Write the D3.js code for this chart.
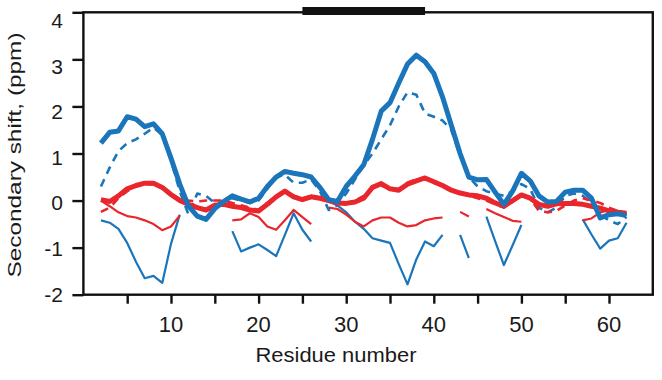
<!DOCTYPE html>
<html>
<head>
<meta charset="utf-8">
<script src="https://cdn.jsdelivr.net/npm/d3@7"></script>
<style>
  body { margin: 0; background: #fff; }
  text { font-family: Arial, "Liberation Sans", sans-serif; fill: #1a1a1a; }
</style>
</head>
<body>
<div id="chart"></div>
<script>
// residue numbers along the x axis
const residues = [2,3,4,5,6,7,8,9,10,11,12,13,14,15,16,17,18,19,20,21,22,23,24,25,26,27,28,29,30,31,
  32,33,34,35,36,37,38,39,40,41,42,43,44,45,46,47,48,49,50,51,52,53,54,55,56,57,58,59,60,61,62];

// blue series (thick solid, dashed, thin solid with gaps)
const blueThick = [1.22,1.45,1.48,1.78,1.73,1.57,1.63,1.42,0.9,0.35,-0.12,-0.33,-0.4,-0.17,-0.02,0.1,0.03,-0.03,0.05,0.3,
  0.5,0.62,0.58,0.55,0.5,0.28,0.02,-0.02,0.3,0.52,0.76,1.3,1.9,2.08,2.5,2.9,3.09,2.95,2.7,2.2,
  1.6,1.0,0.5,0.44,0.45,0.18,-0.08,0.2,0.58,0.42,0.1,-0.03,-0.02,0.18,0.22,0.22,0.05,-0.37,-0.3,-0.28,-0.32];
const blueDash = [0.3,0.7,1.05,1.22,1.3,1.42,1.55,1.4,0.85,0.2,-0.3,0.15,0.1,-0.05,-0.05,0.05,0.0,-0.05,0.0,0.25,
  0.5,0.55,0.38,0.38,0.45,0.2,-0.2,-0.1,0.15,0.45,0.75,1.0,1.3,1.6,2.0,2.3,2.25,1.85,1.78,1.7,
  1.5,0.95,0.5,0.3,0.2,0.15,0.1,0.2,0.35,0.25,-0.15,-0.25,-0.15,0.1,0.15,0.1,-0.05,-0.3,-0.42,-0.5,-0.35];
const blueThin = [-0.42,-0.47,-0.6,-0.9,-1.3,-1.65,-1.6,-1.75,-0.92,-0.3,null,null,null,null,null,-0.65,-1.08,-1.0,-0.93,-1.05,
  -1.18,-0.73,-0.27,-0.62,-0.87,null,-0.02,-0.1,-0.25,-0.45,-0.6,-0.8,-0.85,-0.9,-1.35,-1.78,-1.25,-0.87,-0.97,-0.73,
  null,-0.73,-1.22,null,-0.34,-0.86,-1.37,-0.95,-0.52,null,null,null,null,null,null,-0.4,-0.72,-1.02,-0.85,-0.8,-0.47];

// red series (thick solid, dashed, thin solid with gaps)
const redThick = [0.02,-0.02,0.1,0.25,0.32,0.37,0.37,0.28,0.13,0.0,-0.08,-0.15,-0.2,-0.1,-0.08,-0.12,-0.15,-0.2,-0.22,-0.08,
  0.08,0.2,0.08,0.02,0.08,0.05,0.0,-0.05,-0.06,-0.03,0.05,0.28,0.36,0.25,0.22,0.35,0.42,0.48,0.4,0.32,
  0.22,0.16,0.12,0.1,0.05,-0.05,-0.12,0.0,0.12,0.05,-0.08,-0.12,-0.07,-0.06,-0.06,-0.08,-0.12,-0.16,-0.22,-0.25,-0.27];
const redDash = [-0.24,-0.15,0.05,0.2,0.3,0.35,0.35,0.3,0.15,0.03,0.0,-0.02,0.0,0.0,0.0,-0.05,-0.1,-0.15,-0.2,-0.05,
  0.1,0.18,0.1,0.05,0.1,0.05,0.0,-0.03,-0.05,0.0,0.1,0.28,0.32,0.25,0.25,0.38,0.45,0.45,0.38,0.3,
  0.22,0.15,0.1,0.05,0.0,-0.08,-0.15,-0.02,0.1,0.05,-0.22,-0.25,-0.22,-0.1,0.0,0.05,0.0,-0.05,-0.15,-0.22,-0.3];
const redThin = [0.0,-0.12,-0.25,-0.33,-0.36,-0.42,-0.5,-0.63,-0.55,-0.32,null,null,null,null,null,-0.42,-0.4,-0.27,-0.35,-0.55,
  -0.62,-0.42,-0.2,-0.35,-0.5,null,-0.15,-0.18,-0.3,-0.45,-0.55,-0.42,-0.36,-0.36,-0.47,-0.55,-0.52,-0.42,-0.38,-0.36,
  null,-0.24,-0.34,null,-0.18,-0.27,-0.35,-0.43,-0.45,null,null,null,null,null,null,-0.42,-0.38,-0.25,-0.2,-0.22,-0.27];

// black bar on top (residue range)
const barRange = [25, 39];

const yTicks = [-2, -1, 0, 1, 2, 3, 4];
const xTicks = [5, 10, 15, 20, 25, 30, 35, 40, 45, 50, 55, 60];
const xLabels = [10, 20, 30, 40, 50, 60];

const width = 662, height = 380;
const blue = "#1a75bb", red = "#e8262b";

const svg = d3.select("#chart").append("svg")
    .attr("width", width)
    .attr("height", height);

const x = d3.scaleLinear().domain([0, 65]).range([83.4, 652.8]);
const y = d3.scaleLinear().domain([-2, 4]).range([294.7, 12.3]);
// tick labels sit on a slightly tighter spacing than the ticks themselves
const yLab = d3.scaleLinear().domain([-2, 4]).range([294, 20.5]);

// lines
function series(vals) {
    return residues.map((r, i) => ({r: r, v: vals[i]}));
}
const line = d3.line()
    .defined(d => d.v != null)
    .x(d => x(d.r))
    .y(d => y(d.v));

const layers = [
    {vals: blueThin, color: blue, w: 2.2, dash: null},
    {vals: redThin, color: red, w: 2.2, dash: null},
    {vals: blueDash, color: blue, w: 2.6, dash: "8,6"},
    {vals: redDash, color: red, w: 2.6, dash: "8,6"},
    {vals: redThick, color: red, w: 5, dash: null},
    {vals: blueThick, color: blue, w: 5, dash: null}
];

svg.append("g").selectAll("path")
    .data(layers)
    .join("path")
    .attr("d", d => line(series(d.vals)))
    .attr("fill", "none")
    .attr("stroke", d => d.color)
    .attr("stroke-width", d => d.w)
    .attr("stroke-linejoin", "round")
    .attr("stroke-dasharray", d => d.dash);

// frame
svg.append("rect")
    .attr("x", x(0))
    .attr("y", y(4))
    .attr("width", x(65) - x(0))
    .attr("height", y(-2) - y(4))
    .attr("fill", "none")
    .attr("stroke", "#111")
    .attr("stroke-width", 2.4);

// y axis ticks
const yAxis = d3.axisLeft(y).tickValues(yTicks).tickSize(11).tickFormat("");
svg.append("g")
    .attr("transform", "translate(" + x(0) + ",0)")
    .call(yAxis)
    .call(g => g.select(".domain").remove())
    .call(g => g.selectAll("line").attr("stroke", "#111").attr("stroke-width", 2.4));

svg.append("g").selectAll("text")
    .data(yTicks)
    .join("text")
    .attr("x", 63)
    .attr("y", d => yLab(d))
    .attr("dy", "0.36em")
    .attr("text-anchor", "end")
    .attr("font-size", 21)
    .text(d => d);

// x axis ticks
const xAxis = d3.axisBottom(x).tickValues(xTicks).tickSize(9).tickFormat("");
svg.append("g")
    .attr("transform", "translate(0," + y(-2) + ")")
    .call(xAxis)
    .call(g => g.select(".domain").remove())
    .call(g => g.selectAll("line").attr("stroke", "#111").attr("stroke-width", 2.4));

svg.append("g").selectAll("text")
    .data(xLabels)
    .join("text")
    .attr("x", d => x(d))
    .attr("y", 332)
    .attr("text-anchor", "middle")
    .attr("font-size", 22)
    .text(d => d);

// axis titles
svg.append("text")
    .attr("x", 336)
    .attr("y", 362)
    .attr("text-anchor", "middle")
    .attr("font-size", 21)
    .attr("textLength", 161)
    .attr("lengthAdjust", "spacingAndGlyphs")
    .text("Residue number");

svg.append("text")
    .attr("transform", "translate(21,155) rotate(-90)")
    .attr("text-anchor", "middle")
    .attr("font-size", 19)
    .attr("textLength", 245)
    .attr("lengthAdjust", "spacingAndGlyphs")
    .text("Secondary shift, (ppm)");

// black bar above the frame
svg.append("line")
    .attr("x1", x(barRange[0]))
    .attr("x2", x(barRange[1]))
    .attr("y1", 11)
    .attr("y2", 11)
    .attr("stroke", "#111")
    .attr("stroke-width", 8);
</script>
</body>
</html>
